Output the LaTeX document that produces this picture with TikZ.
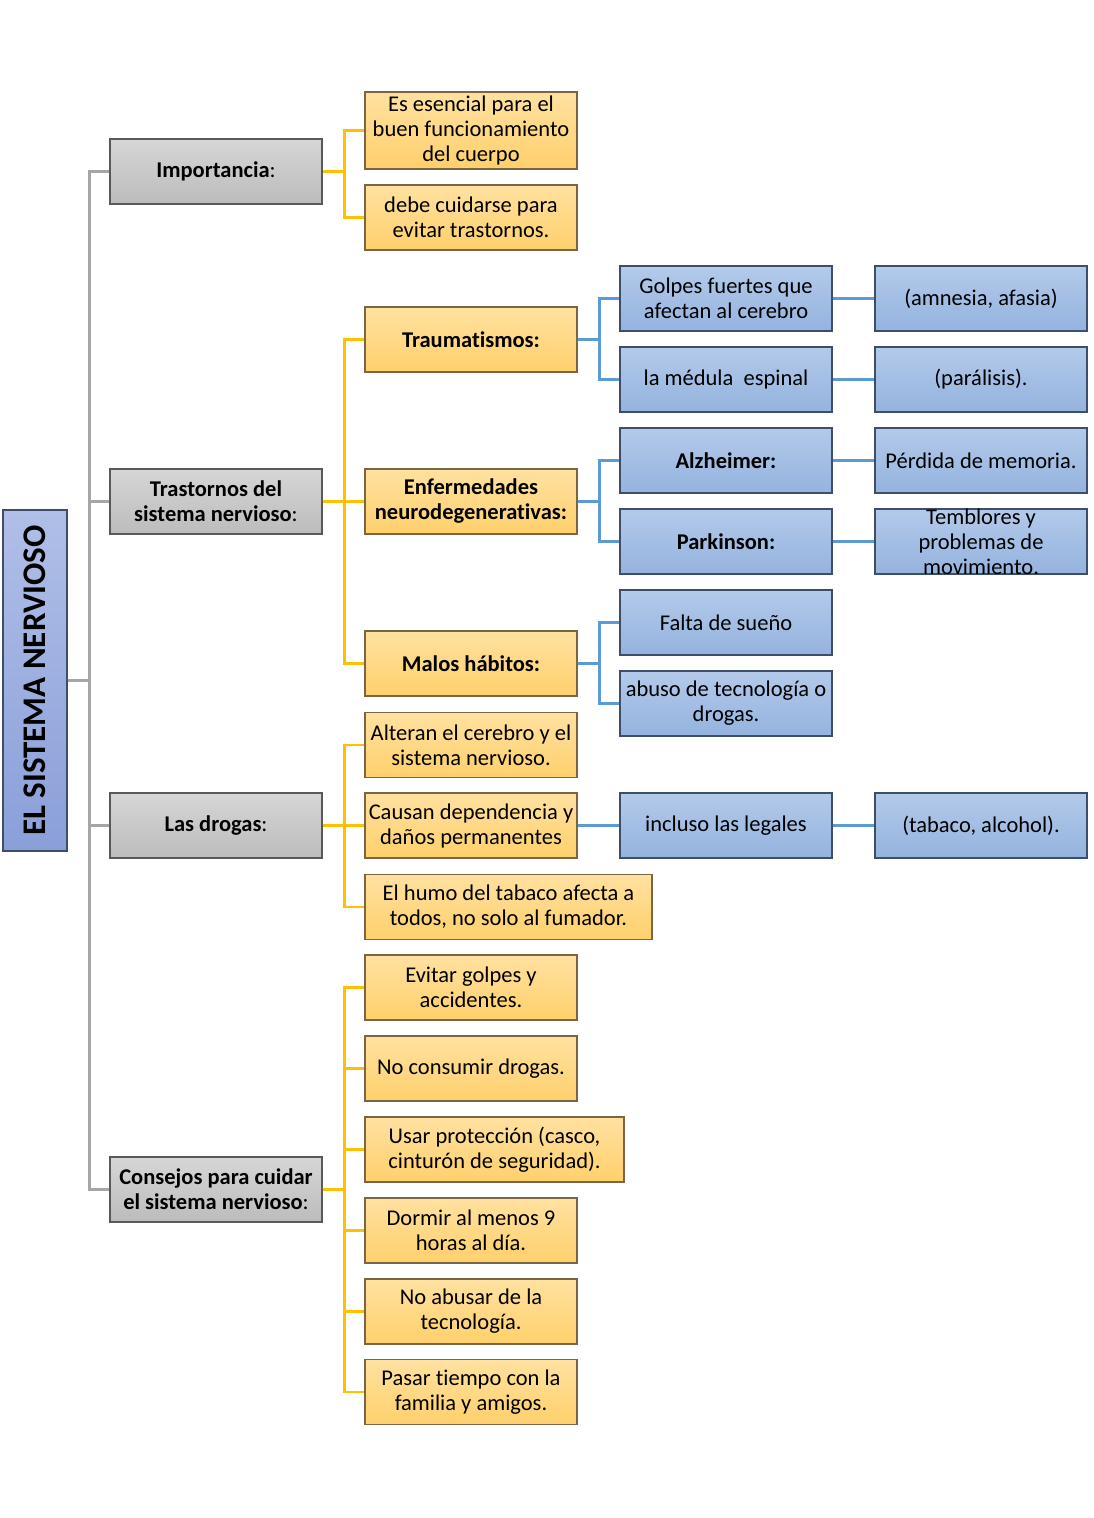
\documentclass[tikz,border=0pt]{standalone}
\usepackage{fontspec}
\setmainfont{Carlito}[Ligatures={NoCommon,NoContextual,NoRare}]
\begin{document}
\begin{tikzpicture}[x=1pt,y=-1pt,
  box/.style={rectangle, minimum width=212pt, minimum height=65pt, inner xsep=1pt, inner ysep=2pt, align=center, line width=1.2pt, font=\fontsize{22.5}{25}\selectfont},
  graybox/.style={box, draw=black!65, top color=graytop, bottom color=graybot},
  orangebox/.style={box, draw=orangeedge, top color=orangetop, bottom color=orangebot},
  bluebox/.style={box, draw=blueedge, top color=bluetop, bottom color=bluebot},
  plaintext/.style={align=center, inner sep=0pt, font=\fontsize{22.5}{25}\selectfont},
  gline/.style={draw=grayline, line width=2.5pt},
  oline/.style={draw=orangeline, line width=2.5pt},
  bline/.style={draw=blueline, line width=2.5pt}]
\definecolor{graytop}{HTML}{D6D6D6}
\definecolor{graybot}{HTML}{BCBCBC}
\definecolor{orangetop}{HTML}{FFE1A0}
\definecolor{orangebot}{HTML}{FFD06C}
\definecolor{orangeedge}{HTML}{7A6642}
\definecolor{bluetop}{HTML}{B3CAEA}
\definecolor{bluebot}{HTML}{94B3DF}
\definecolor{blueedge}{HTML}{3E4E66}
\definecolor{roottop}{HTML}{B0BFE7}
\definecolor{rootbot}{HTML}{8A9FD9}
\definecolor{grayline}{HTML}{A6A6A6}
\definecolor{orangeline}{HTML}{FFC000}
\definecolor{blueline}{HTML}{5B9BD5}
\useasboundingbox (0,0) rectangle (1093,1518);

% root
\node[rectangle, draw=blueedge, line width=1.2pt, top color=roottop, bottom color=rootbot, minimum width=64pt, minimum height=341pt, inner sep=0pt] (root) at (35,680.5) {};
\node[rotate=90, font=\fontsize{33}{36}\selectfont\bfseries, inner sep=0pt] (roottxt) at (root.center) {EL SISTEMA NERVIOSO};

% level 1
\node[graybox] (imp) at (216,171.5) {\textbf{Importancia}:};
\node[graybox] (tra) at (216,501.5) {\textbf{Trastornos del}\\\textbf{sistema nervioso}:};
\node[graybox] (dro) at (216,825.5) {\textbf{Las drogas}:};
\node[graybox] (con) at (216,1189.5) {\textbf{Consejos para cuidar}\\\textbf{el sistema nervioso}:};

% level 2
\node[orangebox, minimum height=77pt] (ese) at (471,130.5) {Es esencial para el\\buen funcionamiento\\del cuerpo};
\node[orangebox] (deb) at (471,217.5) {debe cuidarse para\\evitar trastornos.};
\node[orangebox] (trau) at (471,339.5) {\textbf{Traumatismos:}};
\node[orangebox] (enf) at (471,501.5) {\textbf{Enfermedades}\\\textbf{neurodegenerativas:}};
\node[orangebox] (mal) at (471,663.5) {\textbf{Malos hábitos:}};
\node[orangebox] (alt) at (471,745) {Alteran el cerebro y el\\sistema nervioso.};
\node[orangebox] (cau) at (471,825.5) {Causan dependencia y\\daños permanentes};
\node[orangebox, minimum width=287pt] (hum) at (508.5,907) {El humo del tabaco afecta a\\todos, no solo al fumador.};
\node[orangebox] (evi) at (471,987.5) {Evitar golpes y\\accidentes.};
\node[orangebox] (nco) at (471,1068.5) {No consumir drogas.};
\node[orangebox, minimum width=259pt] (usa) at (494.5,1149.5) {Usar protección (casco,\\cinturón de seguridad).};
\node[orangebox] (dor) at (471,1230.5) {Dormir al menos 9\\horas al día.};
\node[orangebox] (nab) at (471,1311.5) {No abusar de la\\tecnología.};
\node[orangebox] (pas) at (471,1392) {Pasar tiempo con la\\familia y amigos.};

% level 3
\node[bluebox] (gol) at (726,298.5) {Golpes fuertes que\\afectan al cerebro};
\node[bluebox] (med) at (726,379.5) {la médula\ \ espinal};
\node[bluebox] (alz) at (726,460.5) {\textbf{Alzheimer:}};
\node[bluebox] (par) at (726,541.5) {\textbf{Parkinson:}};
\node[bluebox] (fal) at (726,622.5) {Falta de sueño};
\node[bluebox] (abu) at (726,703.5) {abuso de tecnología o\\drogas.};
\node[bluebox] (inc) at (726,825.5) {incluso las legales};

% level 4
\node[bluebox] (amn) at (981,298.5) {(amnesia, afasia)};
\node[bluebox] (pal) at (981,379.5) {(parálisis).};
\node[bluebox] (per) at (981,460.5) {Pérdida de memoria.};
\node[bluebox] (tem) at (981,541.5) {};
\node[plaintext] (temtxt) at (981,541.5) {Temblores y\\problemas de\\movimiento.};
\node[bluebox] (tab) at (981,825.5) {(tabaco, alcohol).};

% gray connectors
\foreach \c in {imp,tra,dro,con} \draw[gline] (root.east) -- ++(22,0) |- (\c.west);
% orange connectors
\foreach \c in {ese,deb} \draw[oline] (imp.east) -- ++(22,0) |- (\c.west);
\foreach \c in {trau,enf,mal} \draw[oline] (tra.east) -- ++(22,0) |- (\c.west);
\foreach \c in {alt,cau,hum} \draw[oline] (dro.east) -- ++(22,0) |- (\c.west);
\foreach \c in {evi,nco,usa,dor,nab,pas} \draw[oline] (con.east) -- ++(22,0) |- (\c.west);
% blue connectors
\foreach \c in {gol,med} \draw[bline] (trau.east) -- ++(22,0) |- (\c.west);
\foreach \c in {alz,par} \draw[bline] (enf.east) -- ++(22,0) |- (\c.west);
\foreach \c in {fal,abu} \draw[bline] (mal.east) -- ++(22,0) |- (\c.west);
\draw[bline] (cau.east) -- (inc.west);
\draw[bline] (gol.east) -- (amn.west);
\draw[bline] (med.east) -- (pal.west);
\draw[bline] (alz.east) -- (per.west);
\draw[bline] (par.east) -- (tem.west);
\draw[bline] (inc.east) -- (tab.west);
\end{tikzpicture}
\end{document}
